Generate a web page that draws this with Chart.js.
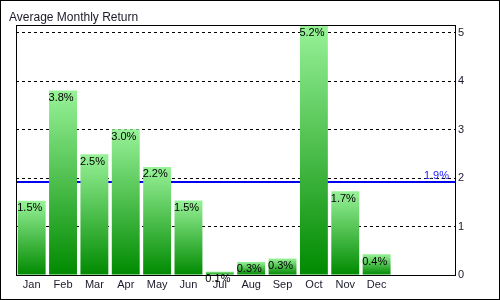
<!DOCTYPE html>
<html>
<head>
<meta charset="utf-8">
<script src="https://cdn.jsdelivr.net/npm/chart.js@4"></script>
<style>
html,body{margin:0;padding:0;background:#fff;}
#wrap{width:500px;height:300px;position:relative;}
</style>
</head>
<body>
<div id="wrap"><canvas id="c" width="500" height="300"></canvas></div>
<script>
const categories = ['Jan','Feb','Mar','Apr','May','Jun','Jul','Aug','Sep','Oct','Nov','Dec','',''];
const monthlyReturns = [1.53, 3.81, 2.49, 3.01, 2.23, 1.54, 0.07, 0.27, 0.34, 5.16, 1.73, 0.43];
const averageReturn = 1.91;
const yTicks = [0, 1, 2, 3, 4, 5];
const chartTitle = 'Average Monthly Return';

const FONT = 'Liberation Sans';

const frame = {
  id: 'frame',
  beforeDraw(chart) {
    const c = chart.ctx;
    c.save();
    c.fillStyle = '#fff';
    c.fillRect(0, 0, chart.width, chart.height);
    c.strokeStyle = '#000';
    c.lineWidth = 1;
    c.strokeRect(0.5, 0.5, chart.width - 1, chart.height - 1);
    c.fillStyle = '#1a1a2a';
    c.font = '12px "' + FONT + '"';
    c.textBaseline = 'alphabetic';
    c.textAlign = 'left';
    c.fillText(chartTitle, 9, 21);
    c.restore();
  },
  beforeDatasetsDraw(chart) {
    const c = chart.ctx, a = chart.chartArea, y = chart.scales.y;
    const py = Math.round(y.getPixelForValue(averageReturn));
    c.save();
    c.strokeStyle = '#0000ee';
    c.lineWidth = 2;
    c.beginPath();
    c.moveTo(a.left, py);
    c.lineTo(a.right, py);
    c.stroke();
    c.fillStyle = '#2020ff';
    c.font = '11px "' + FONT + '"';
    c.textAlign = 'right';
    c.textBaseline = 'alphabetic';
    c.fillText(averageReturn.toFixed(1) + '%', a.right - 6, py - 3);
    c.restore();
  },
  afterDatasetsDraw(chart) {
    const c = chart.ctx;
    const meta = chart.getDatasetMeta(0);
    c.save();
    c.fillStyle = '#000';
    c.font = '11px "' + FONT + '"';
    c.textAlign = 'left';
    c.textBaseline = 'top';
    meta.data.forEach((el, i) => {
      const v = monthlyReturns[i];
      c.fillText(v.toFixed(1) + '%', el.x - el.width / 2 - 0.5, el.y + 2);
    });
    c.restore();
  },
  afterDraw(chart) {
    const c = chart.ctx, a = chart.chartArea;
    c.save();
    c.strokeStyle = '#000';
    c.lineWidth = 1;
    c.strokeRect(Math.round(a.left) + 0.5, Math.round(a.top) + 0.5,
      Math.round(a.right - a.left) - 1 + 1, Math.round(a.bottom - a.top));
    c.restore();
  }
};

function barGradient(ctx) {
  const chart = ctx.chart;
  if (ctx.type !== 'data' || !chart.chartArea) return '#50c050';
  const y = chart.scales.y;
  const top = y.getPixelForValue(Math.min(ctx.raw, y.max));
  const bottom = y.getPixelForValue(0);
  const g = chart.ctx.createLinearGradient(0, top, 0, bottom);
  g.addColorStop(0, '#98f298');
  g.addColorStop(1, '#008a00');
  return g;
}

new Chart(document.getElementById('c'), {
  type: 'bar',
  data: {
    labels: categories,
    datasets: [{
      data: monthlyReturns,
      backgroundColor: barGradient,
      borderWidth: 0,
      barPercentage: 0.89,
      categoryPercentage: 1.0
    }]
  },
  plugins: [frame],
  options: {
    responsive: false,
    animation: false,
    devicePixelRatio: 1,
    layout: { padding: { left: 16, top: 25, right: 0, bottom: 0 } },
    plugins: { legend: { display: false }, tooltip: { enabled: false }, title: { display: false } },
    scales: {
      x: {
        grid: { display: false, drawTicks: false },
        border: { display: false },
        ticks: { color: '#1a1a2a', font: { family: FONT, size: 11 }, padding: 3, maxRotation: 0, autoSkip: false },
        afterFit(s) { s.height = 25; }
      },
      y: {
        position: 'right',
        min: 0,
        max: Math.max(...monthlyReturns),
        afterBuildTicks(s) { s.ticks = yTicks.map(v => ({ value: v })); },
        grid: {
          color: ctx => ctx.tick && ctx.tick.value === 0 ? 'rgba(0,0,0,0)' : '#000',
          drawTicks: false,
          lineWidth: 1
        },
        border: { display: false, dash: [3, 3] },
        ticks: { color: '#1a1a2a', font: { family: FONT, size: 11 }, padding: 3 },
        afterFit(s) { s.width = 45; }
      }
    }
  }
});

// dashed grid lines
Chart.defaults.borderColor = '#000';
</script>
</body>
</html>
